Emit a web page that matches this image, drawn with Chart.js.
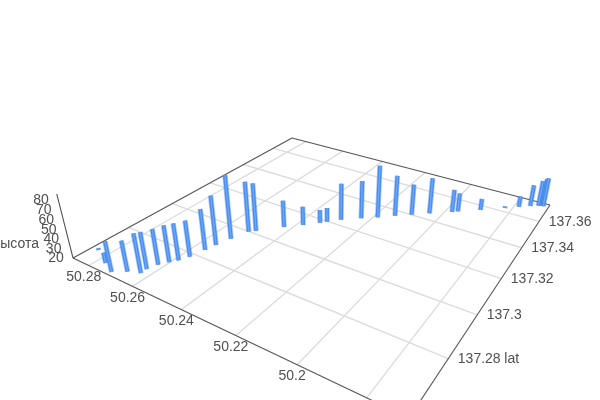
<!DOCTYPE html>
<html>
<head>
<meta charset="utf-8">
<script src="https://cdn.jsdelivr.net/npm/chart.js@4"></script>
<style>body{margin:0;background:#fff}canvas{display:block}</style>
</head>
<body>
<canvas id="canvas" width="600" height="400"></canvas>
<script>
const lons = [50.2847, 50.2767, 50.2712, 50.2672, 50.2632, 50.2633, 50.2621, 50.2602, 50.2585, 50.2570, 50.2556, 50.2547, 50.2531, 50.2510, 50.2493, 50.2427, 50.2379, 50.2338, 50.2321, 50.2287, 50.2232, 50.2186, 50.2139, 50.2092, 50.2042, 50.1977, 50.1961, 50.1895, 50.1824, 50.1784, 50.1750, 50.1725, 50.1713, 50.1709];
const lats = [137.2653, 137.2617, 137.2595, 137.2622, 137.2639, 137.2663, 137.2698, 137.2726, 137.2749, 137.2783, 137.2837, 137.2878, 137.2933, 137.2999, 137.3017, 137.3088, 137.3134, 137.3178, 137.3197, 137.3235, 137.3282, 137.3319, 137.3362, 137.3401, 137.3444, 137.3497, 137.3512, 137.3566, 137.3628, 137.3665, 137.3693, 137.3711, 137.3716, 137.3719];
const heights = [22, 30.9, 51.5, 51.8, 60.3, 57.9, 56.9, 58.3, 58.4, 57.7, 63.2, 72.0, 87.1, 74.0, 71.5, 49.3, 40.6, 34.5, 35.6, 60.4, 61.9, 77.4, 65.1, 54.2, 59.9, 45.5, 40.9, 32.9, 22, 32.3, 44.3, 48.9, 51.2, 52.3];
const lonTicks = [50.28, 50.26, 50.24, 50.22, 50.2, 50.18];
const latTicks = [137.28, 137.3, 137.32, 137.34, 137.36];
const zTicks = [20, 30, 40, 50, 60, 70, 80];

const lonRange = [50.2877, 50.169];
const latRange = [137.258, 137.374];
const zRange = [20, 85];

// camera: floor corners on screen and where the vertical lines meet
const quad = [[73, 258], [409, 418], [550, 205], [292, 138]];
const zVanish = [330, 1270];
const zK = -0.0595;

const [p0, p1, p2, p3] = quad;
const dx1 = p1[0] - p2[0], dx2 = p3[0] - p2[0], sx = p0[0] - p1[0] + p2[0] - p3[0];
const dy1 = p1[1] - p2[1], dy2 = p3[1] - p2[1], sy = p0[1] - p1[1] + p2[1] - p3[1];
const den = dx1 * dy2 - dx2 * dy1;
const g = (sx * dy2 - dx2 * sy) / den, h = (dx1 * sy - sx * dy1) / den;
const a = p1[0] - p0[0] + g * p1[0], b = p3[0] - p0[0] + h * p3[0], c = p0[0];
const d = p1[1] - p0[1] + g * p1[1], e = p3[1] - p0[1] + h * p3[1], f = p0[1];

function project(lon, lat, z) {
  const s = (lon - lonRange[0]) / (lonRange[1] - lonRange[0]);
  const t = (lat - latRange[0]) / (latRange[1] - latRange[0]);
  const w = (z - zRange[0]) / (zRange[1] - zRange[0]);
  const W = g * s + h * t + 1 + w * zK;
  return {
    x: (a * s + b * t + c + w * zK * zVanish[0]) / W,
    y: (d * s + e * t + f + w * zK * zVanish[1]) / W,
  };
}

// small tension keeps Chart.js off its fast path, which rounds x
function seg(p, q, color, width) {
  return { type: 'line', data: [p, q], borderColor: color, borderWidth: width, tension: 0.001, pointRadius: 0, clip: false, parsing: false };
}

const sets = [];
lonTicks.forEach(v => sets.push(seg(project(v, latRange[0], 20), project(v, latRange[1], 20), '#dcdcdc', 1.4)));
latTicks.forEach(v => sets.push(seg(project(lonRange[0], v, 20), project(lonRange[1], v, 20), '#dcdcdc', 1.4)));
const cL = project(lonRange[0], latRange[0], 20), cF = project(lonRange[1], latRange[0], 20);
const cR = project(lonRange[1], latRange[1], 20), cB = project(lonRange[0], latRange[1], 20);
[[cL, cB], [cB, cR], [cL, cF], [cF, cR]].forEach(pr => sets.push(seg(pr[0], pr[1], '#555555', 1.1)));
sets.push(seg(cL, project(lonRange[0], latRange[0], 85), '#555555', 1.1));

lons.forEach((lon, i) => {
  const base = project(lon, lats[i], 20), top = project(lon, lats[i], heights[i]);
  sets.push(seg(base, top, 'rgba(70,135,235,0.45)', 5.4));
  sets.push(seg(base, top, '#4a8bec', 3.8));
  sets.push(seg(base, top, '#69a8f8', 1.4));
});

const labels = {
  id: 'labels',
  afterDraw(chart) {
    const ctx = chart.ctx, scaleX = chart.scales.x, scaleY = chart.scales.y;
    ctx.save();
    ctx.font = '14px "Liberation Sans", Arial, sans-serif';
    ctx.fillStyle = '#505050';
    ctx.textBaseline = 'middle';
    const put = (txt, p, ox, oy, al) => {
      ctx.textAlign = al;
      ctx.fillText(txt, scaleX.getPixelForValue(p.x) + ox, scaleY.getPixelForValue(p.y) + oy);
    };
    lonTicks.forEach(v => put(String(v), project(v, latRange[0], 20), -5, 11.5, 'center'));
    latTicks.forEach(v => put(String(v), project(lonRange[1], v, 20), 9.5, 0.5, 'left'));
    zTicks.forEach(v => put(String(v), project(lonRange[0], latRange[0], v), -17, 0.5, 'center'));
    put('lat', project(lonRange[1], 137.28, 20), 56, 1, 'left');
    put('высота', cL, -34, -14, 'right');
    ctx.restore();
  }
};

new Chart(document.getElementById('canvas').getContext('2d'), {
  type: 'line',
  data: { datasets: sets.reverse() },
  options: {
    responsive: false,
    animation: false,
    layout: { padding: 0 },
    plugins: { legend: { display: false }, tooltip: { enabled: false } },
    scales: {
      x: { type: 'linear', min: 0, max: 600, display: false },
      y: { type: 'linear', min: 0, max: 400, reverse: true, display: false },
    },
  },
  plugins: [labels],
});
</script>
</body>
</html>
